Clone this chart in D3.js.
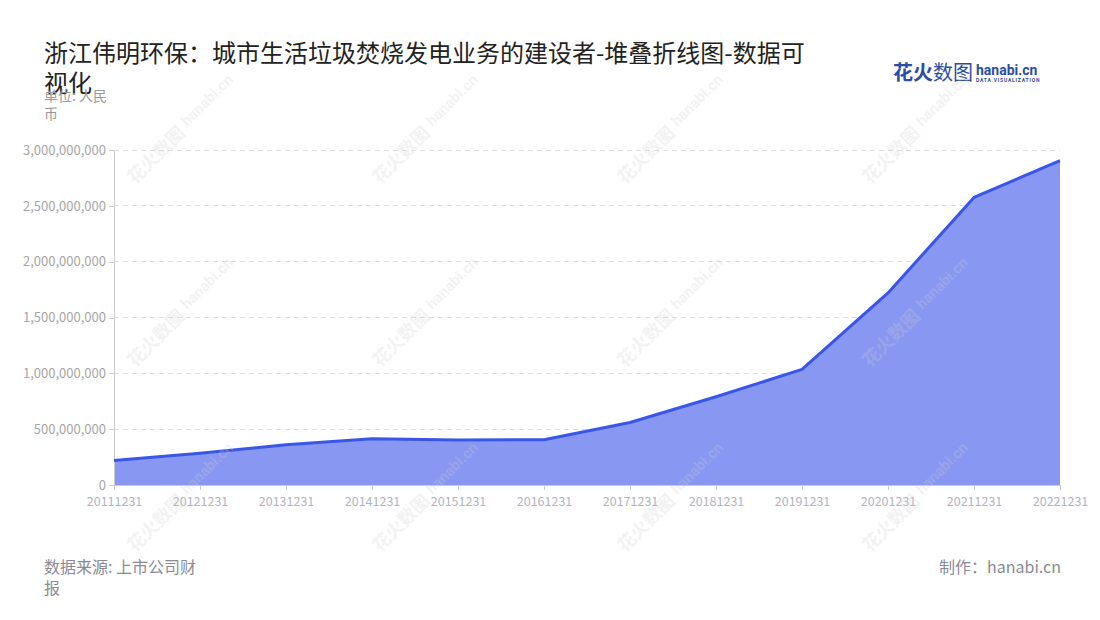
<!DOCTYPE html>
<html>
    <head>
        <meta charset="utf-8">
        <script src="https://cdn.jsdelivr.net/npm/d3@7"></script>
        <style>
            body {
                margin: 0;
                background: #ffffff;
            }

            #chart .font {
                font-family: "Noto Sans CJK SC", "Noto Sans", sans-serif;
            }

            #chart .title {
                fill: #222222;
                font-size: 24px;
            }

            #chart .unit {
                fill: #999999;
                font-size: 14px;
            }

            #chart .footer {
                fill: #8a8a96;
                font-size: 16px;
            }

            #chart .y-axis path,
            #chart .y-axis line,
            #chart .x-axis path,
            #chart .x-axis line {
                stroke: #cccccc;
                shape-rendering: crispEdges;
            }

            #chart .y-axis text {
                fill: #a6a6a6;
                font-size: 13px;
            }

            #chart .x-axis text {
                fill: #b3b3c3;
                font-size: 12.5px;
            }

            #chart .grid line {
                stroke: #dddddd;
                stroke-dasharray: 5 4;
                shape-rendering: crispEdges;
            }

            #chart .area {
                fill: #8897f2;
            }

            #chart .line {
                fill: none;
                stroke: #3a56e8;
                stroke-width: 3;
                stroke-linejoin: round;
            }

            #chart .watermark {
                fill: #cfcfcf;
                opacity: 0.25;
            }
        </style>
    </head>
    <body>
        <script>
            const SVG_WIDTH = 1100;
            const SVG_HEIGHT = 620;
            const PLOT_LEFT = 114;
            const PLOT_RIGHT = 1060;
            const PLOT_TOP = 150;
            const PLOT_BOTTOM = 485;

            const TITLE_TXT = "浙江伟明环保：城市生活垃圾焚烧发电业务的建设者-堆叠折线图-数据可视化";
            const UNIT_TXT = "单位: 人民币";
            const SOURCE_TXT = "数据来源: 上市公司财报";
            const MAKER_TXT = "制作：hanabi.cn";

            // report dates and values (yuan)
            var dates = ["20111231", "20121231", "20131231", "20141231", "20151231", "20161231",
                "20171231", "20181231", "20191231", "20201231", "20211231", "20221231"];
            var values = [220000000, 285000000, 360000000, 415000000, 402000000, 406000000,
                560000000, 790000000, 1035000000, 1720000000, 2575000000, 2905000000];
            var yTicks = [0, 500000000, 1000000000, 1500000000, 2000000000, 2500000000, 3000000000];

            var svg = d3.select("body")
                .append("svg")
                .attr("width", SVG_WIDTH)
                .attr("height", SVG_HEIGHT)
                .attr("id", "chart");

            // wrap text into lines no wider than maxWidth, char by char
            function wrapText(textSel, txt, x, y, lineHeight, maxWidth) {
                var line = "";
                var lineNo = 0;
                var tspan = textSel.append("tspan").attr("x", x).attr("y", y);
                for (var i = 0; i < txt.length; i++) {
                    var test = line + txt[i];
                    tspan.text(test);
                    if (tspan.node().getComputedTextLength() > maxWidth && line !== "") {
                        tspan.text(line);
                        lineNo++;
                        line = txt[i];
                        tspan = textSel.append("tspan")
                            .attr("x", x)
                            .attr("y", y + lineNo * lineHeight)
                            .text(line);
                    } else {
                        line = test;
                    }
                }
            }

            var title = svg.append("text").classed("title font", true);
            wrapText(title, TITLE_TXT, 44, 62, 30, 772);

            var unit = svg.append("text").classed("unit font", true);
            wrapText(unit, UNIT_TXT, 44, 101, 18, 70);

            // logo
            var logo = svg.append("g").attr("transform", "translate(893, 80)");
            logo.append("text")
                .classed("font", true)
                .attr("x", 0)
                .attr("y", 0)
                .style("font-size", "20px")
                .style("fill", "#2c4ca6")
                .style("font-weight", "bold")
                .text("花火");
            logo.append("text")
                .classed("font", true)
                .attr("x", 40)
                .attr("y", 0)
                .style("font-size", "20px")
                .style("fill", "#2c4ca6")
                .text("数图");
            logo.append("text")
                .attr("x", 83)
                .attr("y", -5)
                .style("font-family", "Roboto, sans-serif")
                .style("font-size", "14px")
                .style("font-weight", "bold")
                .style("fill", "#2c4ca6")
                .text("hanabi.cn");
            logo.append("text")
                .attr("x", 83)
                .attr("y", 2)
                .style("font-family", "Roboto, sans-serif")
                .style("font-size", "5px")
                .style("font-weight", "bold")
                .style("letter-spacing", "0.8px")
                .style("fill", "#2c4ca6")
                .text("DATA VISUALIZATION");

            var xScale = d3.scalePoint()
                .domain(dates)
                .range([PLOT_LEFT, PLOT_RIGHT]);
            var yScale = d3.scaleLinear()
                .domain([0, 3000000000])
                .range([PLOT_BOTTOM, PLOT_TOP]);

            svg.append("g")
                .classed("grid", true)
                .selectAll("line")
                .data(yTicks.slice(1))
                .enter()
                .append("line")
                .attr("x1", PLOT_LEFT)
                .attr("x2", PLOT_RIGHT)
                .attr("y1", function(d) { return yScale(d); })
                .attr("y2", function(d) { return yScale(d); });

            var area = d3.area()
                .x(function(d, i) { return xScale(dates[i]); })
                .y0(yScale(0))
                .y1(function(d) { return yScale(d); });
            var line = d3.line()
                .x(function(d, i) { return xScale(dates[i]); })
                .y(function(d) { return yScale(d); });

            svg.append("path")
                .datum(values)
                .classed("area", true)
                .attr("d", area);

            var yAxis = d3.axisLeft(yScale)
                .tickValues(yTicks)
                .tickSize(5)
                .tickSizeOuter(0)
                .tickFormat(d3.format(","));
            svg.append("g")
                .classed("y-axis font", true)
                .attr("transform", "translate(" + PLOT_LEFT + ",0)")
                .call(yAxis)
                .call(function(g) { g.selectAll("text").attr("x", -8); });

            var xAxis = d3.axisBottom(xScale)
                .tickSize(5)
                .tickSizeOuter(0);
            svg.append("g")
                .classed("x-axis font", true)
                .attr("transform", "translate(0," + PLOT_BOTTOM + ")")
                .call(xAxis)
                .call(function(g) { g.selectAll("text").attr("dy", "1.0em"); });

            svg.append("path")
                .datum(values)
                .classed("line", true)
                .attr("d", line);

            // faint watermark tiles
            var wmPos = [];
            [135, 380, 625, 870].forEach(function(x) {
                [185, 368, 553].forEach(function(y) {
                    wmPos.push([x, y]);
                });
            });
            var wm = svg.append("g")
                .selectAll("g")
                .data(wmPos)
                .enter()
                .append("g")
                .attr("transform", function(d) {
                    return "translate(" + d[0] + "," + d[1] + ") rotate(-45)";
                });
            wm.append("text")
                .classed("watermark font", true)
                .style("font-size", "18px")
                .style("font-weight", "bold")
                .text("花火数图");
            wm.append("text")
                .classed("watermark", true)
                .attr("x", 78)
                .attr("y", -4)
                .style("font-family", "Roboto, sans-serif")
                .style("font-size", "15px")
                .style("font-weight", "bold")
                .text("hanabi.cn");

            var source = svg.append("text").classed("footer font", true);
            wrapText(source, SOURCE_TXT, 44, 573, 21, 160);

            svg.append("text")
                .classed("footer font", true)
                .attr("x", 1061)
                .attr("y", 573)
                .attr("text-anchor", "end")
                .text(MAKER_TXT);
        </script>
    </body>
</html>
